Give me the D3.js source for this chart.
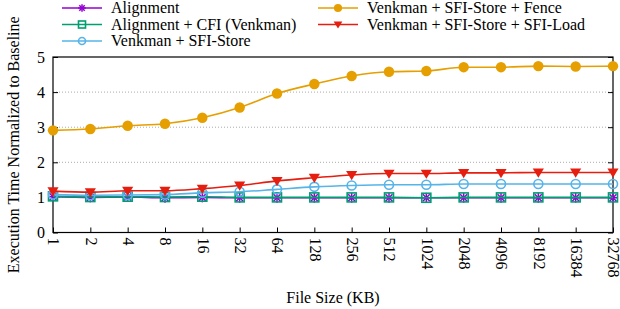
<!DOCTYPE html>
<html><head><meta charset="utf-8">
<script src="https://cdn.jsdelivr.net/npm/d3@7"></script>
<style>
html,body{margin:0;padding:0;background:#fff;}
</style></head>
<body><svg id="chart" width="620" height="309"></svg>
<script>
const categories = ["1","2","4","8","16","32","64","128","256","512","1024","2048","4096","8192","16384","32768"];
const alignment = [1.02,1.00,1.01,0.99,1.00,0.99,0.99,0.99,0.99,0.99,0.99,0.99,0.99,0.99,0.99,0.99];
const alignmentCFI = [1.03,1.01,1.02,1.01,1.02,1.00,1.00,1.00,1.00,1.00,0.99,1.00,1.00,1.00,1.00,1.00];
const sfiStore = [1.08,1.06,1.07,1.08,1.13,1.16,1.23,1.30,1.34,1.36,1.36,1.38,1.38,1.38,1.38,1.38];
const sfiStoreFence = [2.91,2.95,3.04,3.10,3.27,3.56,3.96,4.23,4.46,4.58,4.60,4.71,4.71,4.74,4.73,4.74];
const sfiStoreLoad = [1.18,1.15,1.19,1.19,1.25,1.34,1.47,1.56,1.64,1.68,1.68,1.70,1.70,1.71,1.71,1.71];
const yTicks = [0,1,2,3,4,5];
const seriesNames = ["Alignment","Alignment + CFI (Venkman)","Venkman + SFI-Store","Venkman + SFI-Store + Fence","Venkman + SFI-Store + SFI-Load"];
const seriesColors = ["#9400d3","#009e73","#56b4e9","#e69f00","#e51e10"];
const seriesMarkers = ["asterisk","square","circle","dot","triangle"];
const seriesValues = [alignment, alignmentCFI, sfiStore, sfiStoreFence, sfiStoreLoad];

const FONT = "Liberation Serif";
const svg = d3.select("#chart");
const L = 53, R = 613, T = 57, B = 232.5;
const x = d3.scalePoint().domain(categories).range([L, R]).padding(0);
const y = d3.scaleLinear().domain([0,5]).range([B, T]);

// grid
svg.append("g").selectAll("line").data(yTicks.filter(d=>d>0 && d<5)).join("line")
  .attr("x1", L).attr("x2", R).attr("y1", d=>y(d)).attr("y2", d=>y(d))
  .attr("stroke", "#aaa").attr("stroke-width", 1).attr("stroke-dasharray", "1,2");

// axes
const yAxis = svg.append("g").attr("transform", `translate(${L},0)`)
  .call(d3.axisLeft(y).tickValues(yTicks).tickSize(-5).tickPadding(8).tickFormat(d3.format("d")));
yAxis.attr("font-family", FONT);
yAxis.select(".domain").remove();
yAxis.selectAll("text").attr("font-size", 16).attr("fill", "#000").attr("font-family", FONT);
yAxis.selectAll("line").attr("stroke", "#000");
const yAxisR = svg.append("g").attr("transform", `translate(${R},0)`)
  .call(d3.axisRight(y).tickValues(yTicks).tickSize(-5).tickFormat(""));
yAxisR.select(".domain").remove();
yAxisR.selectAll("line").attr("stroke", "#000");

const xAxis = svg.append("g").attr("transform", `translate(0,${B})`)
  .call(d3.axisBottom(x).tickSize(-5).tickSizeOuter(0));
xAxis.attr("font-family", FONT);
xAxis.select(".domain").remove();
xAxis.selectAll("line").attr("stroke", "#000");
xAxis.selectAll("text")
  .attr("font-size", 16).attr("fill", "#000").attr("font-family", FONT)
  .attr("text-anchor", "start").attr("dy", "0.33em")
  .attr("transform", "translate(0,5) rotate(90)").attr("x", 0).attr("y", 0);

// frame
svg.append("rect").attr("x", L).attr("y", T).attr("width", R-L).attr("height", B-T)
  .attr("fill", "none").attr("stroke", "#000").attr("stroke-width", 1.2);

function marker(g, type, color, cx, cy, s) {
  if (type === "asterisk") {
    const r = s*0.55;
    [[-r,0,r,0],[0,-r,0,r],[-r*0.7,-r*0.7,r*0.7,r*0.7],[-r*0.7,r*0.7,r*0.7,-r*0.7]].forEach(p=>{
      g.append("line").attr("x1",cx+p[0]).attr("y1",cy+p[1]).attr("x2",cx+p[2]).attr("y2",cy+p[3])
        .attr("stroke",color).attr("stroke-width",1.5);
    });
  } else if (type === "square") {
    g.append("rect").attr("x",cx-s/2).attr("y",cy-s/2).attr("width",s).attr("height",s)
      .attr("fill","none").attr("stroke",color).attr("stroke-width",1.6);
  } else if (type === "circle") {
    g.append("circle").attr("cx",cx).attr("cy",cy).attr("r",s/2)
      .attr("fill","none").attr("stroke",color).attr("stroke-width",1.6);
  } else if (type === "dot") {
    g.append("circle").attr("cx",cx).attr("cy",cy).attr("r",s*0.58).attr("fill",color);
  } else if (type === "triangle") {
    const h = s*0.62;
    g.append("path").attr("d",`M${cx-h},${cy-h*0.7}L${cx+h},${cy-h*0.7}L${cx},${cy+h*0.95}Z`).attr("fill",color);
  }
}

const line = d3.line().x((d,i)=>x(categories[i])).y(d=>y(d)).curve(d3.curveMonotoneX);
const plot = svg.append("g");
seriesValues.forEach((vals, k) => {
  const g = plot.append("g");
  g.append("path").attr("d", line(vals)).attr("fill","none")
    .attr("stroke", seriesColors[k]).attr("stroke-width", 1.6);
  vals.forEach((v,i) => marker(g, seriesMarkers[k], seriesColors[k], x(categories[i]), y(v), 9));
});

const legPos = [[62,8],[62,24.5],[62,41],[318,8],[318,24.5]];
seriesNames.forEach((name,k) => {
  const [lx, ly] = legPos[k];
  const g = svg.append("g");
  g.append("line").attr("x1",lx).attr("x2",lx+40).attr("y1",ly).attr("y2",ly)
    .attr("stroke",seriesColors[k]).attr("stroke-width",1.6);
  marker(g, seriesMarkers[k], seriesColors[k], lx+20, ly, 7);
  g.append("text").attr("x", lx+49).attr("y", ly+5).attr("font-size",16).attr("font-family",FONT)
    .attr("fill","#000").text(name);
});

svg.append("text").attr("x", (L+R)/2).attr("y", 303).attr("text-anchor","middle").attr("font-family",FONT)
  .attr("font-size",16).attr("fill","#000").text("File Size (KB)");
svg.append("text").attr("transform", `translate(19,${(T+B)/2}) rotate(-90)`).attr("text-anchor","middle")
  .attr("font-family",FONT).attr("font-size",16).attr("fill","#000").text("Execution Time Normalized to Baseline");
</script></body></html>
